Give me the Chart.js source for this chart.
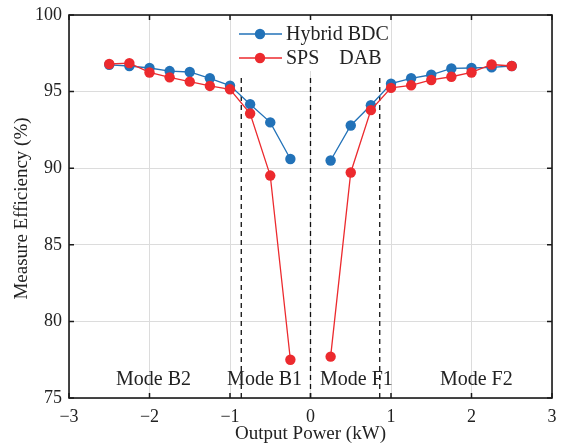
<!DOCTYPE html>
<html>
<head>
<meta charset="utf-8">
<script src="https://cdn.jsdelivr.net/npm/chart.js@4/dist/chart.umd.min.js"></script>
<style>
  html, body { margin:0; padding:0; background:#fff; }
  #wrap { width:561px; height:448px; position:relative; }
</style>
</head>
<body>
<div id="wrap"><canvas id="effChart" width="561" height="448"></canvas></div>
<script>
// measured efficiency vs output power
var POWER = [-2.5,-2.25,-2,-1.75,-1.5,-1.25,-1,-0.75,-0.5,-0.25, 0.25,0.5,0.75,1,1.25,1.5,1.75,2,2.25,2.5];
var HYBRID = [96.75,96.67,96.54,96.34,96.28,95.87,95.39,94.18,92.99,90.6, 90.5,92.79,94.11,95.52,95.87,96.1,96.51,96.54,96.58,96.67];
var SPS_DAB = [96.8,96.86,96.25,95.93,95.65,95.37,95.15,93.57,89.52,77.5, 77.7,89.72,93.79,95.24,95.41,95.76,95.97,96.25,96.77,96.67];
var SERIES_NAMES = ['Hybrid BDC', 'SPS\u2002\u2002DAB'];
var MODE_LINES = [-0.86, 0, 0.86];
var MODE_LABELS = ['Mode B2','Mode B1','Mode F1','Mode F2'];
var MODE_POS = [-1.95,-0.57,0.57,2.06];
var X_TICKS = [-3,-2,-1,0,1,2,3];
var Y_TICKS = [75,80,85,90,95,100];

var BLUE = '#2272b8', RED = '#ec2a2e';
var SERIF = '"Liberation Serif", "Times New Roman", serif';

function pts(ys) { return POWER.map(function(x,i){ return {x:x, y:ys[i]}; }); }
// split the curves into negative and positive power branches
function branch(ys, neg) {
  return pts(ys).filter(function(p){ return neg ? p.x < 0 : p.x > 0; });
}

var ds = [];
MODE_LINES.forEach(function(x){
  ds.push({data:[{x:x,y:75},{x:x,y:95.9}], showLine:true, borderColor:'#111', borderWidth:1.3, borderDash:[5,4], pointRadius:0, order:3});
});
[[HYBRID,BLUE],[SPS_DAB,RED]].forEach(function(s, k){
  [true,false].forEach(function(neg){
    ds.push({data:branch(s[0],neg), showLine:true, borderColor:s[1], backgroundColor:s[1], borderWidth:1.3,
      pointRadius:5.2, pointBorderWidth:0, pointBackgroundColor:s[1], order:2-k});
  });
});

var frame = {
  id:'frame',
  afterDraw: function(ch) {
    var c = ch.ctx, a = ch.chartArea, xs = ch.scales.x, ys = ch.scales.y;
    c.save();
    // legend
    var lx = 236, ly = 17;
    c.fillStyle = '#fff'; c.fillRect(lx, ly, 155, 54);
    c.font = '20px ' + SERIF; c.textBaseline = 'middle';
    [BLUE, RED].forEach(function(col, i){
      var y = ly + 17 + i*24;
      c.strokeStyle = col; c.lineWidth = 1.3;
      c.beginPath(); c.moveTo(lx+3, y); c.lineTo(lx+46, y); c.stroke();
      c.fillStyle = col; c.beginPath(); c.arc(lx+24, y, 5.2, 0, Math.PI*2); c.fill();
      c.fillStyle = '#222'; c.textAlign = 'left';
      c.fillText(SERIES_NAMES[i], lx+50, y+1);
    });
    // box and inward ticks
    c.strokeStyle = '#1a1a1a'; c.lineWidth = 1.6;
    c.strokeRect(a.left, a.top, a.right-a.left, a.bottom-a.top);
    c.lineWidth = 1.5;
    c.beginPath();
    X_TICKS.forEach(function(v){
      var px = xs.getPixelForValue(v);
      c.moveTo(px, a.bottom); c.lineTo(px, a.bottom-5);
      c.moveTo(px, a.top); c.lineTo(px, a.top+5);
    });
    Y_TICKS.forEach(function(v){
      var py = ys.getPixelForValue(v);
      c.moveTo(a.left, py); c.lineTo(a.left+5, py);
      c.moveTo(a.right, py); c.lineTo(a.right-5, py);
    });
    c.stroke();
    // mode labels
    c.fillStyle = '#222'; c.textAlign = 'center';
    MODE_LABELS.forEach(function(t,i){ c.fillText(t, xs.getPixelForValue(MODE_POS[i]), ys.getPixelForValue(76.2)); });
    // axis titles
    c.font = '19px ' + SERIF;
    c.fillText('Output Power (kW)', (a.left+a.right)/2, 434);
    c.translate(22, (a.top+a.bottom)/2 + 2); c.rotate(-Math.PI/2);
    c.fillText('Measure Efficiency (%)', 0, 0);
    c.restore();
  }
};

new Chart(document.getElementById('effChart'), {
  type:'scatter',
  data:{datasets:ds},
  options:{
    responsive:false, animation:false, devicePixelRatio:1,
    layout:{padding:{top:15, right:9, left:0, bottom:0}},
    plugins:{legend:{display:false}, tooltip:{enabled:false}},
    scales:{
      x:{type:'linear', min:-3, max:3, afterBuildTicks:function(s){ s.ticks = X_TICKS.map(function(v){return {value:v};}); },
        afterFit:function(s){ s.height = 50; s.paddingLeft = 0; s.paddingRight = 0; },
        grid:{color:'#dcdcdc', lineWidth:1, drawTicks:false}, border:{display:false},
        ticks:{padding:8, color:'#222', font:{family:SERIF, size:18}, callback:function(v){ return String(v).replace('-', '\u2212'); }}},
      y:{min:75, max:100, afterBuildTicks:function(s){ s.ticks = Y_TICKS.map(function(v){return {value:v};}); },
        afterFit:function(s){ s.width = 69; s.paddingTop = 0; s.paddingBottom = 0; },
        grid:{color:'#dcdcdc', lineWidth:1, drawTicks:false}, border:{display:false},
        ticks:{padding:7, color:'#222', font:{family:SERIF, size:18}}}
    }
  },
  plugins:[frame]
});
</script>
</body>
</html>
